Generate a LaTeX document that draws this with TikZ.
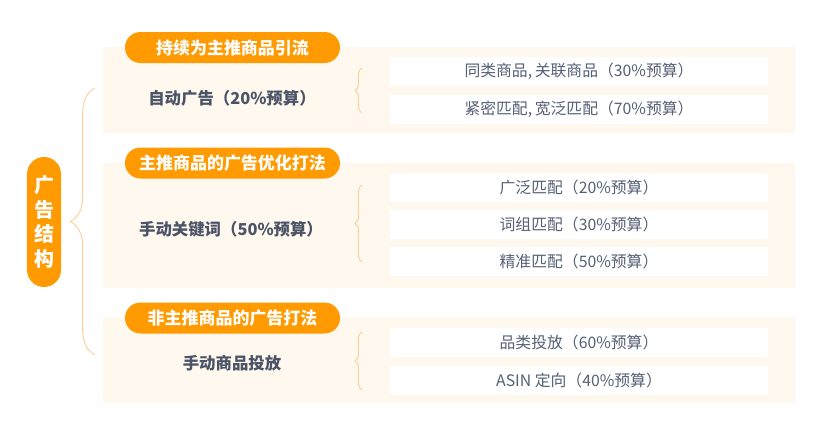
\documentclass[tikz,border=0pt]{standalone}
\usepackage{fontspec}
\setmainfont{Noto Sans CJK SC}
\usetikzlibrary{decorations.pathreplacing}

\definecolor{adorange}{HTML}{FF9A00}
\definecolor{adpanel}{HTML}{FFF8EF}
\definecolor{adbrace}{HTML}{FBCF95}
\definecolor{adtext}{HTML}{4A5466}
\definecolor{adsub}{HTML}{566074}

\tikzset{
  header/.style={fill=adorange, text=white, rounded corners=0.465cm,
    minimum width=6.45cm, minimum height=0.93cm, inner sep=0pt,
    font=\fontsize{14.5}{17}\selectfont\bfseries},
  mainlabel/.style={text=adtext, font=\fontsize{14}{17}\selectfont\bfseries},
  optbox/.style={fill=white, text=adsub, minimum width=11.34cm,
    minimum height=0.87cm, inner sep=0pt, font=\fontsize{13.5}{16}\selectfont},
  panel/.style={fill=adpanel},
  bracket/.style={adbrace, thick, decorate, decoration={brace, amplitude=#1}}
}

\begin{document}
\begin{tikzpicture}[x=0.03cm, y=-0.03cm]
      \useasboundingbox (0,0) rectangle (831,440);

      % root
      \node [fill=adorange, text=white, rounded corners=0.51cm, minimum width=1.02cm,
        minimum height=3.9cm, inner sep=0pt, align=center,
        font=\fontsize{17}{21}\selectfont\bfseries] (root) at (44,222) {广\\告\\结\\构};
      \draw[bracket=21pt] (95,355) -- (95,88);

      % panels
      \fill[panel] (103,47) rectangle (795,133);
      \fill[panel] (103,163) rectangle (795,288);
      \fill[panel] (103,317) rectangle (795,403);

      % section 1
      \node [header] (h1) at (232.5,47.5) {持续为主推商品引流};
      \node [mainlabel] (auto) at (232,98) {自动广告（20\%预算）};
      \draw[bracket=6pt] (362,113) -- (362,68);
      \node [optbox] (a1) at (579,71.5) {同类商品,\,关联商品（30\%预算）};
      \node [optbox] (a2) at (579,109) {紧密匹配,\,宽泛匹配（70\%预算）};

      % section 2
      \node [header] (h2) at (232.5,163) {主推商品的广告优化打法};
      \node [mainlabel] (kw) at (231,229) {手动关键词（50\%预算）};
      \draw[bracket=6pt] (362,262) -- (362,185);
      \node [optbox] (k1) at (579,187) {广泛匹配（20\%预算）};
      \node [optbox] (k2) at (579,224) {词组匹配（30\%预算）};
      \node [optbox] (k3) at (579,261.5) {精准匹配（50\%预算）};

      % section 3
      \node [header] (h3) at (232.5,318) {非主推商品的广告打法};
      \node [mainlabel] (pt) at (232,363) {手动商品投放};
      \draw[bracket=6pt] (362,390) -- (362,332);
      \node [optbox] (p1) at (579,342.5) {品类投放（60\%预算）};
      \node [optbox] (p2) at (579,380) {ASIN 定向（40\%预算）};

    \end{tikzpicture}
\end{document}
